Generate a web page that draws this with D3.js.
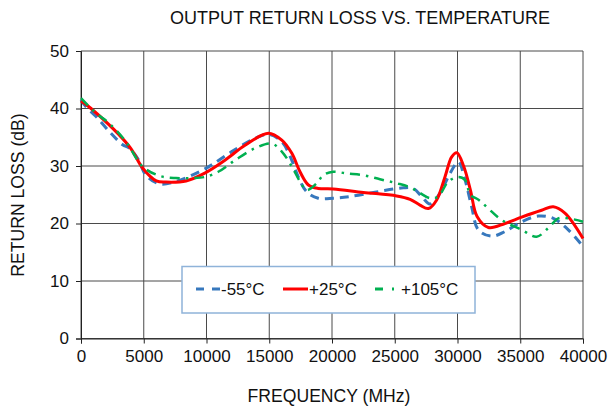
<!DOCTYPE html>
<html>
<head>
<meta charset="utf-8">
<script src="https://cdn.jsdelivr.net/npm/d3@7"></script>
<style>
  html, body { margin: 0; padding: 0; background: #fff; }
  svg { display: block; font-family: 'Liberation Sans', Arial, sans-serif; }
</style>
</head>
<body>
<svg id="chart" width="610" height="406"></svg>
<script>
// Frequency (MHz) / return loss (dB)
const freqCold = [0, 400, 1200, 2250, 3320, 3850, 4520, 5180, 6240, 7570, 9430, 10420, 12010, 13870, 14930, 16000, 16800, 17310, 17990, 18900, 20100, 21430, 23560, 25680, 26480, 27150, 27810, 28610, 29400, 30070, 30600, 31130, 31660, 32730, 33780, 35110, 36440, 37630, 38830, 40000];
const lossCold = [41.5, 40.3, 38.6, 36.0, 33.7, 33.1, 31.3, 28.4, 26.9, 27.3, 29.0, 30.2, 32.5, 34.8, 35.5, 34.2, 31.0, 28.1, 25.5, 24.4, 24.4, 24.7, 25.5, 26.2, 26.1, 24.7, 23.4, 25.3, 28.7, 30.7, 27.6, 22.9, 18.9, 17.8, 18.6, 20.3, 21.3, 20.9, 18.9, 16.0];

const freqRoom = [0, 800, 3850, 4920, 6000, 6770, 8370, 9900, 11470, 13070, 14930, 16000, 16800, 17450, 18120, 18900, 20100, 22500, 25150, 26220, 27010, 27680, 28340, 29000, 29540, 29950, 30500, 31030, 31560, 32460, 33780, 35110, 36700, 37630, 38560, 40000];
const lossRoom = [41.3, 40.0, 33.4, 29.6, 27.4, 27.2, 27.4, 28.8, 31.0, 33.6, 35.7, 34.5, 32.2, 29.0, 26.7, 26.1, 26.0, 25.4, 24.8, 24.2, 23.2, 22.6, 24.1, 28.1, 31.6, 32.3, 29.9, 25.8, 21.2, 19.3, 20.0, 21.1, 22.3, 22.9, 21.8, 17.4];

const freqHot = [0, 1200, 2250, 3590, 4910, 6240, 7570, 8900, 9880, 10940, 12270, 13870, 15200, 16000, 16800, 17450, 17990, 18780, 19310, 20100, 21170, 22500, 23820, 25150, 26220, 27010, 27810, 28470, 29270, 30070, 30600, 31030, 31700, 32460, 33520, 35110, 36300, 37230, 38030, 38830, 40000];
const lossHot = [41.8, 39.2, 37.4, 34.2, 29.9, 28.3, 27.9, 27.9, 28.1, 29.0, 31.0, 33.1, 33.9, 32.5, 29.9, 27.3, 25.8, 27.0, 28.4, 29.0, 28.7, 28.4, 27.7, 27.0, 26.3, 25.3, 24.4, 24.7, 27.3, 28.1, 27.6, 25.0, 24.1, 22.6, 20.6, 18.9, 17.7, 19.2, 20.9, 20.9, 20.3];

const xTicks = [0, 5000, 10000, 15000, 20000, 25000, 30000, 35000, 40000];
const yTicks = [0, 10, 20, 30, 40, 50];

const series = [
  { name: '-55°C',  f: freqCold, v: lossCold, color: '#3778bd', width: 3,   dash: '9,6' },
  { name: '+25°C',  f: freqRoom, v: lossRoom, color: '#ff0000', width: 3,   dash: null },
  { name: '+105°C', f: freqHot,  v: lossHot,  color: '#00b050', width: 2.5, dash: '10,6,2.5,6' }
];

const svg = d3.select('#chart');
const pLeft = 81, pRight = 583, pTop = 51, pBottom = 338.5;

const x = d3.scaleLinear().domain([0, 40000]).range([pLeft, pRight]);
const y = d3.scaleLinear().domain([0, 50]).range([pBottom, pTop]);

// Gridlines
const grid = svg.append('g').attr('stroke', '#4a4a4a').attr('stroke-width', 1);
grid.selectAll('.gx').data(xTicks).enter().append('line')
  .attr('x1', d => x(d)).attr('x2', d => x(d))
  .attr('y1', pTop).attr('y2', pBottom);
grid.selectAll('.gy').data(yTicks).enter().append('line')
  .attr('x1', pLeft).attr('x2', pRight)
  .attr('y1', d => y(d)).attr('y2', d => y(d));

// Axes
const fmt = d3.format('d');
const xAxis = svg.append('g').attr('transform', `translate(0,${pBottom})`)
  .call(d3.axisBottom(x).tickValues(xTicks).tickFormat(fmt).tickSizeOuter(0).tickSize(5).tickPadding(6));
const yAxis = svg.append('g').attr('transform', `translate(${pLeft},0)`)
  .call(d3.axisLeft(y).tickValues(yTicks).tickSizeOuter(0).tickSize(5).tickPadding(7));
[xAxis, yAxis].forEach(a => {
  a.selectAll('text').attr('font-size', '17px').attr('fill', '#111').attr('font-family', "'Liberation Sans', Arial, sans-serif");
  a.selectAll('line').attr('stroke', '#222');
  a.select('.domain').attr('stroke', '#222');
});

// Curves
const line = d3.line().curve(d3.curveCatmullRom.alpha(0.5));
const plot = svg.append('g');
series.forEach(s => {
  const pts = s.f.map((f, i) => [x(f), y(s.v[i])]);
  plot.append('path')
    .attr('d', line(pts))
    .attr('fill', 'none')
    .attr('stroke', s.color)
    .attr('stroke-width', s.width)
    .attr('stroke-dasharray', s.dash)
    .attr('stroke-linejoin', 'round');
});

// Legend
const lg = svg.append('g');
lg.append('rect').attr('x', 182).attr('y', 266.5).attr('width', 293).attr('height', 46.5)
  .attr('fill', '#fff').attr('stroke', '#8fb3d9').attr('stroke-width', 1.5);
const legendPos = [{ x0: 196, tx: 221 }, { x0: 283, tx: 309 }, { x0: 375, tx: 401 }];
series.forEach((s, i) => {
  const p = legendPos[i];
  lg.append('line')
    .attr('x1', p.x0).attr('x2', p.x0 + 25).attr('y1', 289).attr('y2', 289)
    .attr('stroke', s.color).attr('stroke-width', 3)
    .attr('stroke-dasharray', s.dash ? (i === 0 ? '8,8' : '8,9,2,9') : null);
  lg.append('text').attr('x', p.tx).attr('y', 295)
    .attr('font-size', '17px').attr('fill', '#111').text(s.name);
});

// Titles
svg.append('text').attr('x', 360).attr('y', 24).attr('text-anchor', 'middle')
  .attr('font-size', '18px').attr('fill', '#111').text('OUTPUT RETURN LOSS VS. TEMPERATURE');
svg.append('text').attr('x', 329).attr('y', 402).attr('text-anchor', 'middle')
  .attr('font-size', '17.6px').attr('fill', '#111').text('FREQUENCY (MHz)');
svg.append('text').attr('transform', 'translate(24,195) rotate(-90)').attr('text-anchor', 'middle')
  .attr('font-size', '17.6px').attr('fill', '#111').text('RETURN LOSS (dB)');
</script>
</body>
</html>
